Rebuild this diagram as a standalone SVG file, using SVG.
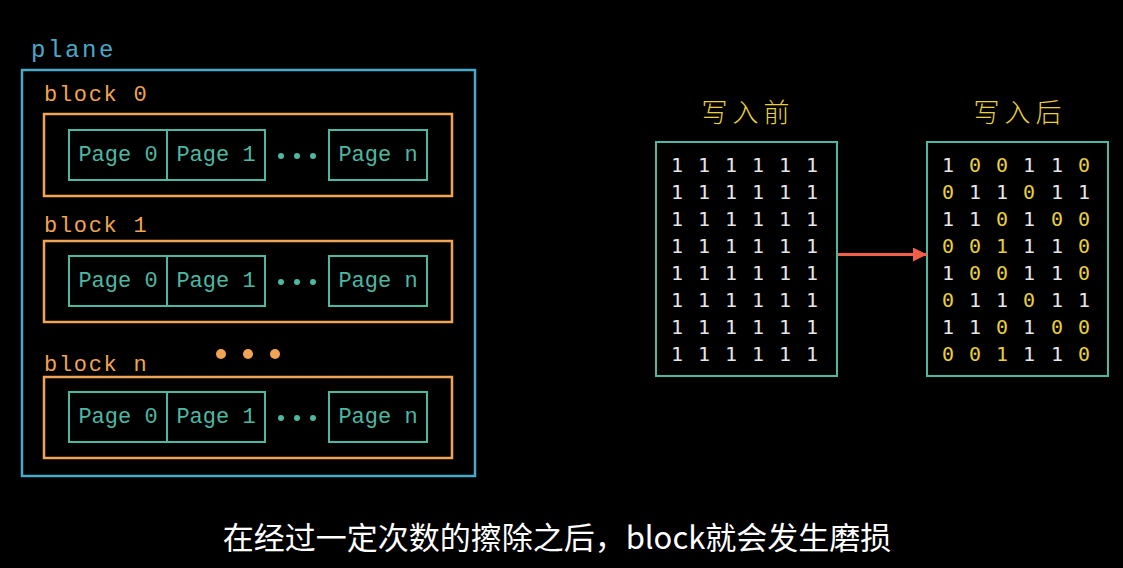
<svg xmlns="http://www.w3.org/2000/svg" width="1123" height="568" viewBox="0 0 1123 568">
<style>
.plane{fill:none;stroke:#4aa9c9;stroke-width:2.5}
.blk{fill:none;stroke:#f0a455;stroke-width:2.5}
.pg{fill:none;stroke:#4db8a2;stroke-width:2}
.grid{fill:none;stroke:#4db8a2;stroke-width:2}
.mono{font-family:"Liberation Mono","DejaVu Sans Mono",monospace}
.tplane{fill:#4aa9c9;font-size:24px;letter-spacing:2.6px}
.tblk{fill:#f0a455;font-size:22px;letter-spacing:1.7px}
.tpg{fill:#4db8a2;font-size:22px;text-anchor:middle}
.dotg{fill:#4db8a2}
.doto{fill:#f0a455}
.num{font-family:"DejaVu Sans Mono","Liberation Mono",monospace;font-size:20px;text-anchor:middle;fill:#e6e6e6}
.y{fill:#e8cf3c}
.title{font-family:"Noto Sans CJK SC",sans-serif;font-size:26px;fill:#e8cf3c;text-anchor:middle;letter-spacing:5px;font-weight:300}
.sub{font-family:"Noto Sans CJK SC",sans-serif;font-size:31px;fill:#ffffff;text-anchor:middle;font-weight:400}
</style>
<defs>
<marker id="ah" markerWidth="14" markerHeight="14" refX="14" refY="7" orient="auto" markerUnits="userSpaceOnUse">
<path d="M0,0 L14,7 L0,14 Z" fill="#f06048"/>
</marker>
<g id="pagerow">
<rect class="pg" x="69" y="0" width="98" height="50"/>
<rect class="pg" x="167" y="0" width="98" height="50"/>
<rect class="pg" x="329" y="0" width="98" height="50"/>
<text class="mono tpg" x="118" y="31">Page 0</text>
<text class="mono tpg" x="216" y="31">Page 1</text>
<text class="mono tpg" x="378" y="31">Page n</text>
<circle class="dotg" cx="281" cy="26" r="3"/>
<circle class="dotg" cx="297" cy="26" r="3"/>
<circle class="dotg" cx="313" cy="26" r="3"/>
</g>
</defs>
<rect width="1123" height="568" fill="#000"/>

<g id="plane">
<text class="mono tplane" x="31" y="57">plane</text>
<rect class="plane" x="22" y="70" width="453" height="406"/>
</g>

<g id="block0">
<text class="mono tblk" x="44" y="101">block 0</text>
<rect class="blk" x="44" y="114" width="408" height="82"/>
<use href="#pagerow" y="130"/>
</g>

<g id="block1">
<text class="mono tblk" x="44" y="232">block 1</text>
<rect class="blk" x="44" y="241" width="408" height="81"/>
<use href="#pagerow" y="256"/>
</g>

<g id="blockdots">
<circle class="doto" cx="221" cy="354" r="5"/>
<circle class="doto" cx="248" cy="354" r="5"/>
<circle class="doto" cx="275" cy="354" r="5"/>
</g>

<g id="blockn">
<text class="mono tblk" x="44" y="371">block n</text>
<rect class="blk" x="44" y="377" width="408" height="81"/>
<use href="#pagerow" y="392"/>
</g>

<g id="before">
<text class="title" x="748" y="122">写入前</text>
<rect class="grid" x="656" y="142" width="181" height="234"/>
<g class="num">
<text y="172"><tspan x="677">1</tspan><tspan x="704">1</tspan><tspan x="731">1</tspan><tspan x="758">1</tspan><tspan x="785">1</tspan><tspan x="812">1</tspan></text>
<text y="199"><tspan x="677">1</tspan><tspan x="704">1</tspan><tspan x="731">1</tspan><tspan x="758">1</tspan><tspan x="785">1</tspan><tspan x="812">1</tspan></text>
<text y="226"><tspan x="677">1</tspan><tspan x="704">1</tspan><tspan x="731">1</tspan><tspan x="758">1</tspan><tspan x="785">1</tspan><tspan x="812">1</tspan></text>
<text y="253"><tspan x="677">1</tspan><tspan x="704">1</tspan><tspan x="731">1</tspan><tspan x="758">1</tspan><tspan x="785">1</tspan><tspan x="812">1</tspan></text>
<text y="280"><tspan x="677">1</tspan><tspan x="704">1</tspan><tspan x="731">1</tspan><tspan x="758">1</tspan><tspan x="785">1</tspan><tspan x="812">1</tspan></text>
<text y="307"><tspan x="677">1</tspan><tspan x="704">1</tspan><tspan x="731">1</tspan><tspan x="758">1</tspan><tspan x="785">1</tspan><tspan x="812">1</tspan></text>
<text y="334"><tspan x="677">1</tspan><tspan x="704">1</tspan><tspan x="731">1</tspan><tspan x="758">1</tspan><tspan x="785">1</tspan><tspan x="812">1</tspan></text>
<text y="361"><tspan x="677">1</tspan><tspan x="704">1</tspan><tspan x="731">1</tspan><tspan x="758">1</tspan><tspan x="785">1</tspan><tspan x="812">1</tspan></text>
</g>
</g>

<g id="after">
<text class="title" x="1020" y="122">写入后</text>
<rect class="grid" x="927" y="142" width="181" height="234"/>
<g class="num">
<text y="172"><tspan x="948">1</tspan><tspan x="975" class="y">0</tspan><tspan x="1002" class="y">0</tspan><tspan x="1029">1</tspan><tspan x="1057">1</tspan><tspan x="1084" class="y">0</tspan></text>
<text y="199"><tspan x="948" class="y">0</tspan><tspan x="975">1</tspan><tspan x="1002">1</tspan><tspan x="1029" class="y">0</tspan><tspan x="1057">1</tspan><tspan x="1084">1</tspan></text>
<text y="226"><tspan x="948">1</tspan><tspan x="975">1</tspan><tspan x="1002" class="y">0</tspan><tspan x="1029">1</tspan><tspan x="1057" class="y">0</tspan><tspan x="1084" class="y">0</tspan></text>
<text y="253"><tspan x="948" class="y">0</tspan><tspan x="975" class="y">0</tspan><tspan x="1002" class="y">1</tspan><tspan x="1029">1</tspan><tspan x="1057">1</tspan><tspan x="1084" class="y">0</tspan></text>
<text y="280"><tspan x="948">1</tspan><tspan x="975" class="y">0</tspan><tspan x="1002" class="y">0</tspan><tspan x="1029">1</tspan><tspan x="1057">1</tspan><tspan x="1084" class="y">0</tspan></text>
<text y="307"><tspan x="948" class="y">0</tspan><tspan x="975">1</tspan><tspan x="1002">1</tspan><tspan x="1029" class="y">0</tspan><tspan x="1057">1</tspan><tspan x="1084">1</tspan></text>
<text y="334"><tspan x="948">1</tspan><tspan x="975">1</tspan><tspan x="1002" class="y">0</tspan><tspan x="1029">1</tspan><tspan x="1057" class="y">0</tspan><tspan x="1084" class="y">0</tspan></text>
<text y="361"><tspan x="948" class="y">0</tspan><tspan x="975" class="y">0</tspan><tspan x="1002" class="y">1</tspan><tspan x="1029">1</tspan><tspan x="1057">1</tspan><tspan x="1084" class="y">0</tspan></text>
</g>
</g>

<g id="connectors">
<line x1="838" y1="254.5" x2="927" y2="254.5" stroke="#f06048" stroke-width="3" marker-end="url(#ah)"/>
</g>

<g id="subtitle">
<text class="sub" x="557" y="549">在经过一定次数的擦除之后，block就会发生磨损</text>
</g>
</svg>
